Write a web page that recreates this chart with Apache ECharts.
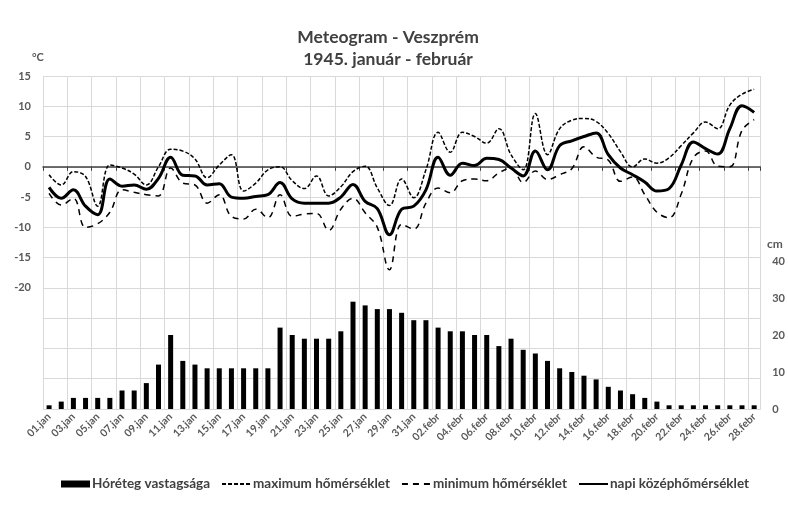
<!DOCTYPE html>
<html>
<head>
<meta charset="utf-8">
<script src="https://cdn.jsdelivr.net/npm/echarts@6/dist/echarts.min.js"></script>
<style>
html,body{margin:0;padding:0;background:#fff;}
#chart{width:788px;height:511px;}
</style>
</head>
<body>
<div id="chart"></div>
<script>
const days = ['01.jan','02.jan','03.jan','04.jan','05.jan','06.jan','07.jan','08.jan','09.jan','10.jan',
  '11.jan','12.jan','13.jan','14.jan','15.jan','16.jan','17.jan','18.jan','19.jan','20.jan',
  '21.jan','22.jan','23.jan','24.jan','25.jan','26.jan','27.jan','28.jan','29.jan','30.jan','31.jan',
  '01.febr','02.febr','03.febr','04.febr','05.febr','06.febr','07.febr','08.febr','09.febr','10.febr',
  '11.febr','12.febr','13.febr','14.febr','15.febr','16.febr','17.febr','18.febr','19.febr','20.febr',
  '21.febr','22.febr','23.febr','24.febr','25.febr','26.febr','27.febr','28.febr'];

const snowDepth = [1,2,3,3,3,3,5,5,7,12,
  20,13,12,11,11,11,11,11,11,22,
  20,19,19,19,21,29,28,27,27,26,24,
  24,22,21,21,20,20,17,19,16,15,
  13,11,10,9,8,6,5,4,3,2,
  1,1,1,1,1,1,1,1];

const maxTemp = [-1.3,-3,-0.8,-1.6,-6.5,0.3,-0.2,-1.2,-3,0,
  2.9,2.6,1.3,-1.8,0.3,2,-4,-2.7,-0.5,0,
  -2.3,-3.6,-1.5,-4.8,-3.3,-0.8,0.1,-3.5,-6.4,-2,-5.1,
  -0.5,5.7,2.4,5.7,5,3.9,6.3,2,-0.5,8.8,
  2,6.3,7.7,8,7.5,5.5,2.5,0,1.3,0.6,
  1.5,3.5,5.6,7.4,6.3,10.2,12,12.8];

const minTemp = [-4.4,-6.3,-5.2,-10,-9.4,-7.5,-3.8,-4.2,-4.6,-4.8,
  -0.2,-2.7,-3,-6,-4.6,-8.2,-8.6,-7,-8.4,-4.6,
  -8.2,-7.8,-7.7,-10.5,-7,-5.2,-7.6,-10,-17,-9.5,-10.3,
  -6,-3.5,-4.3,-2.3,-2,-2.3,-1,-0.2,-2.6,-0.7,
  -2.1,-1.3,-0.3,3.3,1.6,1.1,-2.4,-1.7,-4.6,-7.5,
  -8.4,-4.5,1.5,2.6,0.1,0,6,7.8];

const meanTemp = [-3.4,-5.2,-3.8,-6.5,-7.9,-2,-3.2,-3,-3.7,-1.9,
  1.6,-1.4,-1.5,-3,-2.8,-5,-5.2,-4.9,-4.6,-2.6,
  -5.3,-6,-6,-6,-5,-2.9,-5.7,-6.9,-11.2,-7,-6.5,
  -3.8,1.6,-1.4,0.6,0.2,1.4,1.2,-0.2,-1.5,2.6,
  -0.5,3.5,4.3,5,5.6,2,-0.2,-1.3,-2.5,-4,
  -3.6,0.3,4.1,3,2.1,6.3,10.1,9];

const titleLines = ['Meteogram - Veszprém', '1945. január - február'];
const seriesNames = ['Hóréteg vastagsága', 'maximum hőmérséklet', 'minimum hőmérséklet', 'napi középhőmérséklet'];

const FONT = 'Lato, "Open Sans", sans-serif';
const TXT = '#595959';
const GRID = '#d9d9d9';

const chart = echarts.init(document.getElementById('chart'), null, {renderer: 'canvas'});
chart.setOption({
  animation: false,
  backgroundColor: '#ffffff',
  textStyle: {fontFamily: FONT},
  graphic: [
    {type: 'text', x: 388, y: 28, style: {text: titleLines[0], font: 'bold 17.5px ' + FONT, fill: '#404040', textAlign: 'center'}},
    {type: 'text', x: 388, y: 50, style: {text: titleLines[1], font: 'bold 17.5px ' + FONT, fill: '#404040', textAlign: 'center'}},
    {type: 'text', x: 32, y: 52, style: {text: '°C', font: 'bold 11px ' + FONT, fill: TXT}},
    {type: 'text', x: 767, y: 238, style: {text: 'cm', font: 'bold 12px ' + FONT, fill: TXT}}
  ],
  grid: {left: 43, right: 25, top: 76, bottom: 102, containLabel: false},
  legend: {
    left: 56, top: 472,
    itemWidth: 29, itemHeight: 7, itemGap: 11,
    textStyle: {fontFamily: FONT, fontWeight: 'bold', fontSize: 13.5, color: '#404040', padding: [0,0,0,-3]},
    data: [
      {name: seriesNames[0], icon: 'rect'},
      {name: seriesNames[1], itemStyle: {opacity: 0}},
      {name: seriesNames[2], itemStyle: {opacity: 0}},
      {name: seriesNames[3], itemStyle: {opacity: 0}}
    ]
  },
  xAxis: [
    {
      type: 'category', data: days, boundaryGap: true, position: 'bottom',
      axisLine: {show: true, onZero: false, lineStyle: {color: GRID, width: 1}},
      axisTick: {show: false},
      axisLabel: {interval: 1, rotate: 45, fontSize: 10.5, fontWeight: 'bold', color: TXT, fontFamily: FONT, margin: 6},
      splitLine: {show: true, interval: 1, lineStyle: {color: GRID, width: 1}}
    },
    {
      type: 'category', data: days, boundaryGap: true, position: 'bottom',
      axisLine: {show: true, onZero: true, onZeroAxisIndex: 0, lineStyle: {color: '#404040', width: 1.5}},
      axisTick: {show: true, interval: 1, length: 4, lineStyle: {color: '#404040'}},
      axisLabel: {show: false},
      splitLine: {show: false}
    }
  ],
  yAxis: [
    {
      type: 'value', min: -40, max: 15, interval: 5, position: 'left',
      axisLine: {show: false}, axisTick: {show: false},
      axisLabel: {margin: 12, fontSize: 11, fontWeight: 'bold', color: TXT, fontFamily: FONT,
        formatter: v => (v < -20 ? '' : String(v))},
      splitLine: {show: true, lineStyle: {color: GRID, width: 1}}
    },
    {
      type: 'value', min: 0, max: 90, interval: 10, position: 'right',
      axisLine: {show: false}, axisTick: {show: false},
      axisLabel: {margin: 12, fontSize: 11, fontWeight: 'bold', color: TXT, fontFamily: FONT,
        formatter: v => (v > 40 ? '' : String(v))},
      splitLine: {show: false}
    }
  ],
  series: [
    {
      name: seriesNames[0], type: 'bar', xAxisIndex: 0, yAxisIndex: 1,
      data: snowDepth, barWidth: 5, itemStyle: {color: '#000000'}, z: 2
    },
    {
      name: seriesNames[1], type: 'line', xAxisIndex: 0, yAxisIndex: 0,
      data: maxTemp, smooth: 0.4, symbol: 'none', z: 3,
      lineStyle: {color: '#000000', width: 1.5, type: [4, 2]},
      itemStyle: {color: '#000000'}
    },
    {
      name: seriesNames[2], type: 'line', xAxisIndex: 0, yAxisIndex: 0,
      data: minTemp, smooth: 0.4, symbol: 'none', z: 3,
      lineStyle: {color: '#000000', width: 1.5, type: [6, 5]},
      itemStyle: {color: '#000000'}
    },
    {
      name: seriesNames[3], type: 'line', xAxisIndex: 0, yAxisIndex: 0,
      data: meanTemp, smooth: 0.4, symbol: 'none', z: 4,
      lineStyle: {color: '#000000', width: 3},
      itemStyle: {color: '#000000'}
    }
  ]
});
</script>
</body>
</html>
